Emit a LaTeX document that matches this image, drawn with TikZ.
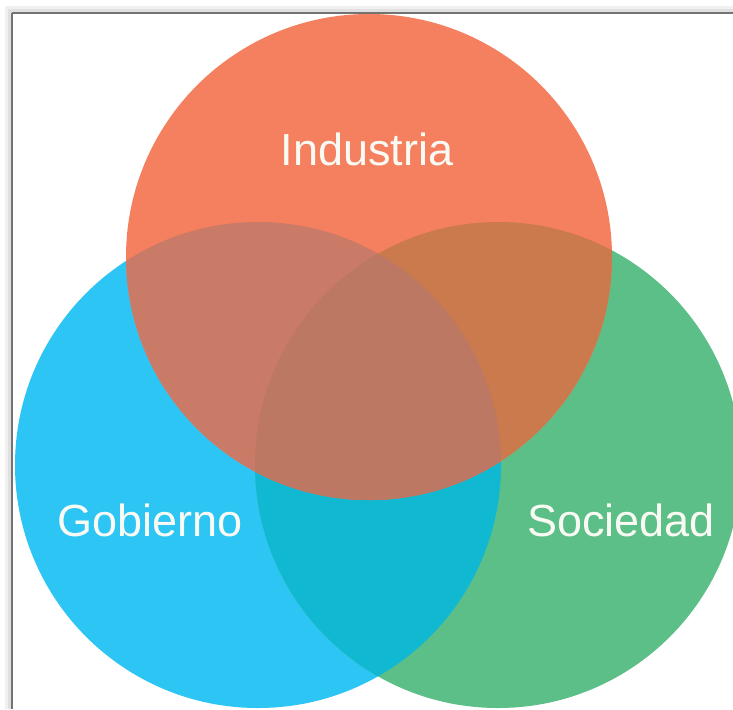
\documentclass[tikz,border=0pt]{standalone}
\usepackage{fontspec}
\setmainfont{Liberation Sans}
\definecolor{cred}{HTML}{F5805F}
\definecolor{cblue}{HTML}{2DC5F4}
\definecolor{cgreen}{HTML}{5CBF87}
\definecolor{crb}{HTML}{C97B68}
\definecolor{crg}{HTML}{CA7A4C}
\definecolor{cbg}{HTML}{10B8D2}
\definecolor{crbg}{HTML}{BD7864}
\definecolor{ctext}{HTML}{FAFAF4}
\begin{document}
\begin{tikzpicture}[x=1pt,y=-1pt,
  lbl/.style={text=ctext,font=\fontsize{45}{54}\selectfont,inner sep=0pt,anchor=center}]
\useasboundingbox (0,0) rectangle (733,709);
\fill[white] (0,0) rectangle (733,709);
% frame with shadow
\fill[black!6] (5,6) rectangle (733,16);
\fill[black!6] (5,6) rectangle (15,709);
\fill[black!12] (8,9) rectangle (733,15);
\fill[black!12] (8,9) rectangle (14,709);
\draw[black!55,line width=2.5] (12,13) -- (733,13);
\draw[black!55,line width=2.5] (12,13) -- (12,709);
\fill[white] (13.3,14.3) rectangle (733,709);
\def\R{243}
\coordinate (cr) at (369,257);
\coordinate (cb) at (258,465);
\coordinate (cg) at (498,465);
\begin{scope}
\clip (13.3,14.3) rectangle (733,709);
\fill[cblue] (cb) circle (\R);
\fill[cgreen] (cg) circle (\R);
\begin{scope}
\clip (cb) circle (\R);
\fill[cbg] (cg) circle (\R);
\end{scope}
\fill[cred] (cr) circle (\R);
\begin{scope}
\clip (cr) circle (\R);
\fill[crb] (cb) circle (\R);
\fill[crg] (cg) circle (\R);
\clip (cb) circle (\R);
\fill[crbg] (cg) circle (\R);
\end{scope}
\end{scope}
\node[lbl] (ind) at (367,149) {Industria};
\node[lbl] (gob) at (150,520) {Gobierno};
\node[lbl] (soc) at (621,520) {Sociedad};
\end{tikzpicture}
\end{document}
